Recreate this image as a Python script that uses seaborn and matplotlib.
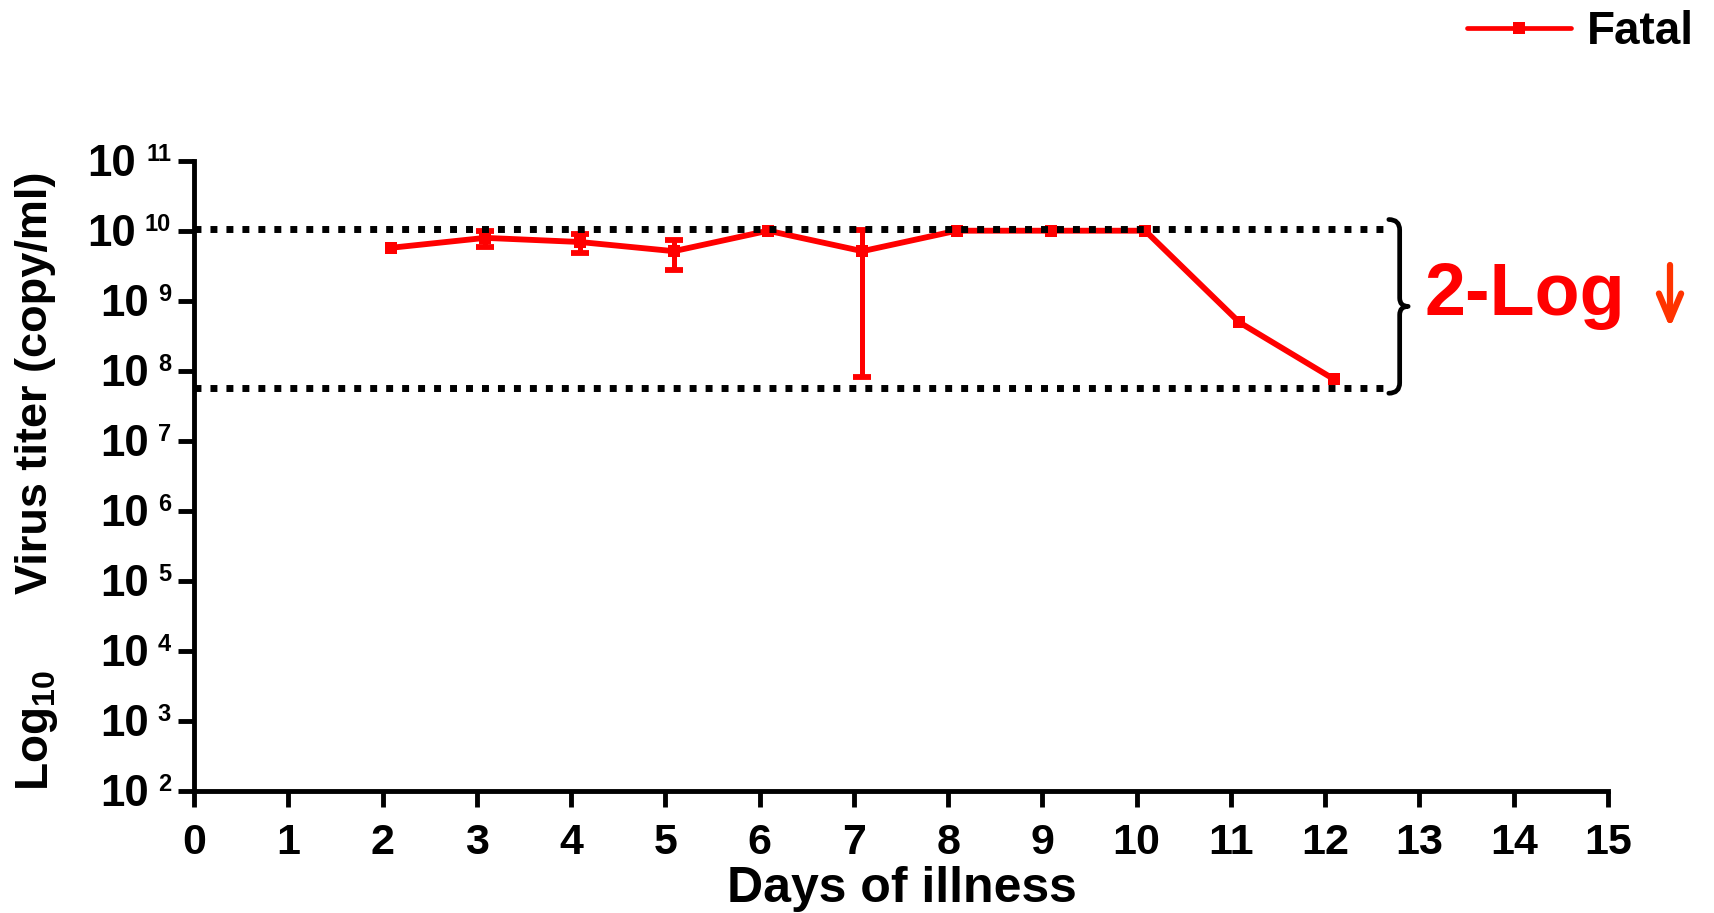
import numpy as np
import pandas as pd
import matplotlib
matplotlib.use('Agg')
import matplotlib.pyplot as plt
import seaborn as sns
from matplotlib.path import Path
from matplotlib.patches import PathPatch
from matplotlib.ticker import NullLocator

# ---------------- data ----------------
days = [2, 3, 4, 5, 6, 7, 8, 9, 10, 11, 12]
titer = [5.7e9, 7.9e9, 6.9e9, 5.1e9, 1.0e10, 5.1e9, 1.0e10, 1.0e10, 1.0e10, 4.9e8, 7.6e7]
titer_sd = [0, 2.1e9, 2.15e9, 2.35e9, 0, 5.02e9, 0, 0, 0, 0, 0]
series_name = 'Fatal'
x_ticks = list(range(0, 16))
y_exponents = list(range(2, 12))
ref_levels = [1.07e10, 5.6e7]
drop_label = '2-Log'
x_label = 'Days of illness'
y_label = 'Virus titer (copy/ml)'
y_label_prefix = r'Log$_{10}$'

# ---------------- style ----------------
sns.set_style('ticks')
plt.rcParams['font.family'] = ['Liberation Sans', 'DejaVu Sans']
plt.rcParams['font.weight'] = 'bold'
plt.rcParams['text.color'] = 'k'
plt.rcParams['axes.labelcolor'] = 'k'
plt.rcParams['xtick.color'] = 'k'
plt.rcParams['ytick.color'] = 'k'
plt.rcParams['mathtext.fontset'] = 'custom'
plt.rcParams['mathtext.rm'] = 'Liberation Sans:bold'
plt.rcParams['mathtext.it'] = 'Liberation Sans:bold'
plt.rcParams['mathtext.bf'] = 'Liberation Sans:bold'

RED = '#ff0000'
W, H = 1715, 913
fig = plt.figure(figsize=(W / 100, H / 100), dpi=100)
ax = fig.add_axes([194 / W, 1 - 790.7 / H, (1608 - 194) / W, (790.7 - 160.7) / H])

x_shift = 0.09
df = pd.DataFrame({'day': np.array(days) + x_shift, 'titer': titer})
sns.lineplot(data=df, x='day', y='titer', ax=ax, color=RED, lw=4.2,
             marker='s', markersize=9, markeredgewidth=0, markeredgecolor=RED,
             label=series_name, zorder=2)

sd = np.array(titer_sd)
mask = sd > 0
ax.errorbar(np.array(days)[mask] + x_shift, np.array(titer)[mask], yerr=sd[mask],
            fmt='none', ecolor=RED, elinewidth=3.6, capsize=6.5, capthick=4.2, zorder=2)

ax.set_yscale('log')
ax.set_xlim(0, 15)
ax.set_ylim(10.0 ** y_exponents[0], 10.0 ** y_exponents[-1])
ax.yaxis.set_minor_locator(NullLocator())
ax.set_xticks(x_ticks)
ax.set_xticklabels([str(t) for t in x_ticks], fontsize=31, fontweight='bold')
ax.set_yticks([10.0 ** e for e in y_exponents])
ax.set_yticklabels([])
ax.set_xlabel('')
ax.set_ylabel('')

for s in ['top', 'right']:
    ax.spines[s].set_visible(False)
for s in ['left', 'bottom']:
    ax.spines[s].set_linewidth(3.5)
    ax.spines[s].set_color('k')
ax.tick_params(axis='both', which='major', length=11.5, width=3.5, color='k',
               labelcolor='k', direction='out')
ax.tick_params(axis='x', pad=12)

# y tick labels: 10 with superscript exponent
ytrans = ax.get_yaxis_transform()
for e in y_exponents:
    s = str(e)
    sup_right = -16.5
    base_right = sup_right - 9.45 * len(s) - 6.5
    ax.annotate('10', xy=(0, 10.0 ** e), xycoords=ytrans,
                xytext=(base_right, -11.0), textcoords='offset points',
                ha='right', va='baseline', fontsize=31.5, fontweight='bold', color='k',
                annotation_clip=False)
    ax.annotate(s, xy=(0, 10.0 ** e), xycoords=ytrans,
                xytext=(sup_right, -0.5), textcoords='offset points',
                ha='right', va='baseline', fontsize=17, fontweight='bold', color='k',
                annotation_clip=False)

# dotted reference lines
ax.hlines(ref_levels, 0, 12.67, colors='k', linestyles=(0, (1, 1.3)), lw=5, zorder=3)

# curly brace
lt, lb = np.log10(ref_levels[0]) + 0.13, np.log10(ref_levels[1]) - 0.07
lc = (lt + lb) / 2
x0, xs, xt = 12.675, 12.79, 12.88
verts = [(x0, lt), (xs, lt), (xs, lt - 0.15), (xs, lc + 0.12),
         (xs, lc), (xt, lc), (xs, lc), (xs, lc - 0.12),
         (xs, lb + 0.15), (xs, lb), (x0, lb)]
codes = [Path.MOVETO, Path.CURVE3, Path.CURVE3, Path.LINETO,
         Path.CURVE3, Path.CURVE3, Path.CURVE3, Path.CURVE3,
         Path.LINETO, Path.CURVE3, Path.CURVE3]
verts = [(vx, 10.0 ** vy) for vx, vy in verts]
ax.add_patch(PathPatch(Path(verts, codes), fill=False, lw=3.4, edgecolor='k',
                       capstyle='round', joinstyle='round', clip_on=False))

# 2-Log annotation and arrow
fig.text(1425 / W, 1 - 315 / H, drop_label, color=RED, fontsize=53,
         fontweight='bold', ha='left', va='baseline')
ax.annotate('', xy=(1670 / W, 1 - 328 / H), xytext=(1670 / W, 1 - 265 / H),
            xycoords='figure fraction', textcoords='figure fraction',
            arrowprops=dict(arrowstyle='->,head_length=0.95,head_width=0.4',
                            color='#ff3300', lw=4.5, mutation_scale=20,
                            shrinkA=0, shrinkB=0))

# axis labels
fig.text(902 / W, 1 - 902 / H, x_label, ha='center', va='baseline',
         fontsize=36, fontweight='bold')
fig.text(36 / W, 1 - 383 / H, y_label, rotation=90, ha='center', va='center',
         fontsize=32.5, fontweight='bold')
fig.text(37 / W, 1 - 731 / H, y_label_prefix, rotation=90, ha='center', va='center',
         fontsize=33, fontweight='bold')

# legend
leg = ax.legend(loc='center left', bbox_to_anchor=(1467 / W, 1 - 32 / H),
                bbox_transform=fig.transFigure, frameon=False,
                prop={'size': 33, 'weight': 'bold'}, handlelength=2.27,
                handletextpad=0.35, borderpad=0, borderaxespad=0)
for line in leg.get_lines():
    line.set_linewidth(3.4)

fig.savefig('out.png', dpi=100)
